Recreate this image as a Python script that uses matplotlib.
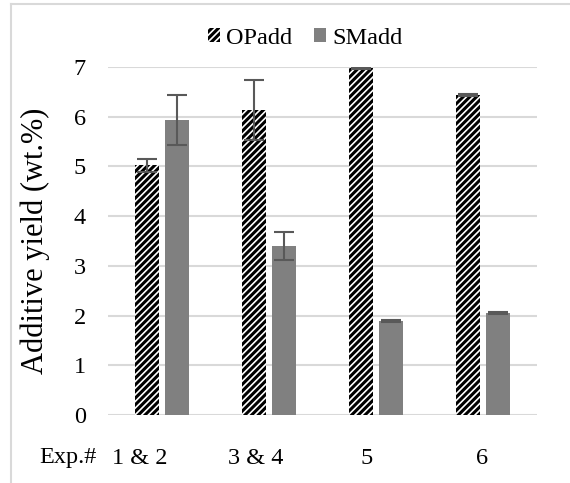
import matplotlib
matplotlib.use("Agg")
import matplotlib.pyplot as plt
import numpy as np
from matplotlib.lines import Line2D

plt.rcParams['font.family'] = ['Liberation Serif', 'DejaVu Serif']
plt.rcParams['hatch.linewidth'] = 2.2

categories = ["1 & 2", "3 & 4", "5", "6"]
series_names = ["OPadd", "SMadd"]
opadd = [5.02, 6.13, 6.98, 6.43]
opadd_err = [0.13, 0.60, 0.02, 0.02]
smadd = [5.93, 3.40, 1.90, 2.06]
smadd_err = [0.50, 0.28, 0.02, 0.02]
yticks = [0, 1, 2, 3, 4, 5, 6, 7]
axis_prefix = "Exp.#"
ylabel = "Additive yield (wt.%)"

W, H = 570, 483
fig = plt.figure(figsize=(W / 100, H / 100), dpi=100)
ax = fig.add_axes([108 / W, 1 - 415 / H, (537 - 108) / W, (415 - 67) / H])

x = np.arange(len(categories))
bw = 0.224
off = 0.14
fs = 17.5
grid_c = '#d9d9d9'
err_c = '#595959'

ax.bar(x - off, opadd, bw, color='white', edgecolor='black', linewidth=0,
       hatch='/////', label=series_names[0], zorder=2)
ax.bar(x + off, smadd, bw, color='#808080', linewidth=0,
       label=series_names[1], zorder=2)
ax.errorbar(x - off, opadd, yerr=opadd_err, fmt='none', ecolor=err_c,
            elinewidth=1.5, capsize=7, capthick=1.5, zorder=3)
ax.errorbar(x + off, smadd, yerr=smadd_err, fmt='none', ecolor=err_c,
            elinewidth=1.5, capsize=7, capthick=1.5, zorder=3)

ax.set_xlim(-0.5, len(categories) - 0.5)
ax.set_ylim(0, 7)
ax.set_yticks(yticks)
ax.set_yticklabels([str(t) for t in yticks], fontsize=fs)
ax.tick_params(axis='y', length=0, pad=16)
ax.set_xticks([])
for s in ax.spines.values():
    s.set_visible(False)
ax.yaxis.grid(True, color=grid_c, linewidth=1.5, zorder=0)
ax.set_axisbelow(True)

# category labels (shifted as in the reference)
label_offsets = [-0.2, -0.12, -0.085, -0.013]
trans = matplotlib.transforms.blended_transform_factory(ax.transData, ax.transAxes)
ylab_pos = -(458 - 415) / (415 - 67)
ax.text(-0.873, ylab_pos, axis_prefix, transform=trans, ha='center', va='center', fontsize=fs)
for i, (c, o) in enumerate(zip(categories, label_offsets)):
    ax.text(i + o, ylab_pos, c, transform=trans, ha='center', va='center', fontsize=fs)

fig.text(35 / W, 1 - 241 / H, ylabel, rotation=90, ha='center', va='center', fontsize=22)

fig.legend(loc='center', bbox_to_anchor=(305 / W, 1 - 38 / H), ncol=2, frameon=False,
           fontsize=fs, handlelength=0.5, handleheight=0.5, handletextpad=0.25,
           columnspacing=0.9, borderaxespad=0)

# outer chart border
fig.add_artist(Line2D([11 / W, 11 / W], [0, 1 - 4 / H], color=grid_c, linewidth=1.5,
                      transform=fig.transFigure))
fig.add_artist(Line2D([11 / W, 1], [1 - 4 / H, 1 - 4 / H], color=grid_c, linewidth=1.5,
                      transform=fig.transFigure))

fig.savefig("out.png", dpi=100)
